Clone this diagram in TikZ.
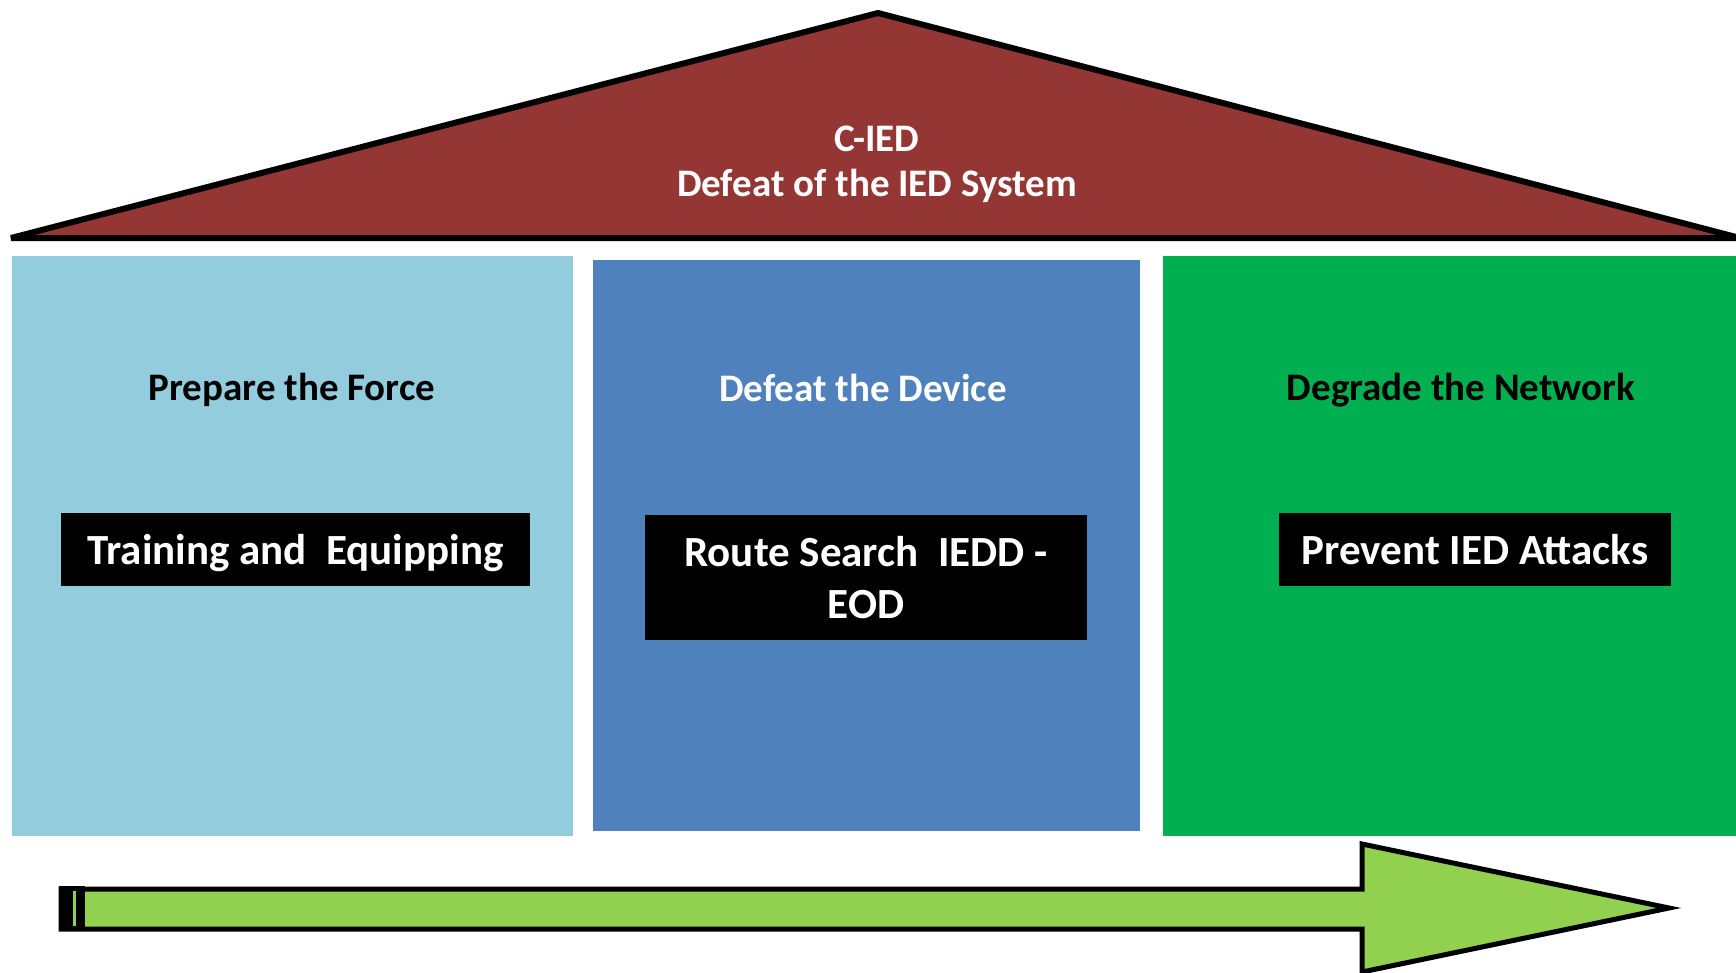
\documentclass[tikz,border=0pt]{standalone}
\usepackage{fontspec}
\setmainfont{Carlito}
\definecolor{roof}{HTML}{943634}
\definecolor{lblue}{HTML}{93CDDD}
\definecolor{mblue}{HTML}{4F81BD}
\definecolor{dgreen}{HTML}{00B050}
\definecolor{lgreen}{HTML}{92D050}
\tikzset{
  pillar/.style={anchor=north west, inner sep=0pt, draw=none},
  blackbox/.style={fill=black, text=white, inner sep=0pt, align=center, font=\fontsize{43}{52}\selectfont\bfseries},
  title/.style={inner sep=0pt, align=center, font=\fontsize{39}{45}\selectfont\bfseries},
}
\begin{document}
\begin{tikzpicture}[x=1pt,y=-1pt]
\useasboundingbox (0,0) rectangle (1736,972);
% roof
\draw[line width=6pt, fill=roof, line join=bevel] (11,238) coordinate (rl) -- (878,13) coordinate (ra) -- (1740,238) coordinate (rr) -- cycle;
\node[title, text=white] (roofT) at (877,164) {C-IED\\Defeat of the IED System};
% pillars
\node[pillar, fill=lblue, minimum width=561pt, minimum height=580pt] (pf) at (12,256) {};
\node[pillar, fill=mblue, minimum width=547pt, minimum height=571pt] (dd) at (593,260) {};
\node[pillar, fill=dgreen, minimum width=580pt, minimum height=580pt] (dn) at (1163,256) {};
% titles
\node[title, text=black] (pfT) at (292,390) {Prepare the Force};
\node[title, text=white] (ddT) at (863,388) {Defeat the Device};
\node[title, text=black] (dnT) at (1461,390) {Degrade the Network};
% black boxes
\node[blackbox, text depth=0pt, minimum width=469pt, minimum height=73pt] (b1) at (295.5,549.5) {Training and\ \ Equipping};
\node[blackbox, minimum width=442pt, minimum height=125pt] (b2) at (866,577.5) {Route Search\ \ IEDD -\\EOD};
\node[blackbox, minimum width=392pt, minimum height=73pt] (b3) at (1475,549.5) {Prevent IED Attacks};
% arrow
\draw[line width=5pt, fill=lgreen, line join=miter] (61,889) -- (1362,889) -- (1362,844) -- (1669,908) coordinate (tip) -- (1362,972) -- (1362,929) -- (61,929) -- cycle;
\fill[black] (59,886) rectangle (85,931);
\fill[lgreen] (73,891) rectangle (76,926);
\end{tikzpicture}
\end{document}
